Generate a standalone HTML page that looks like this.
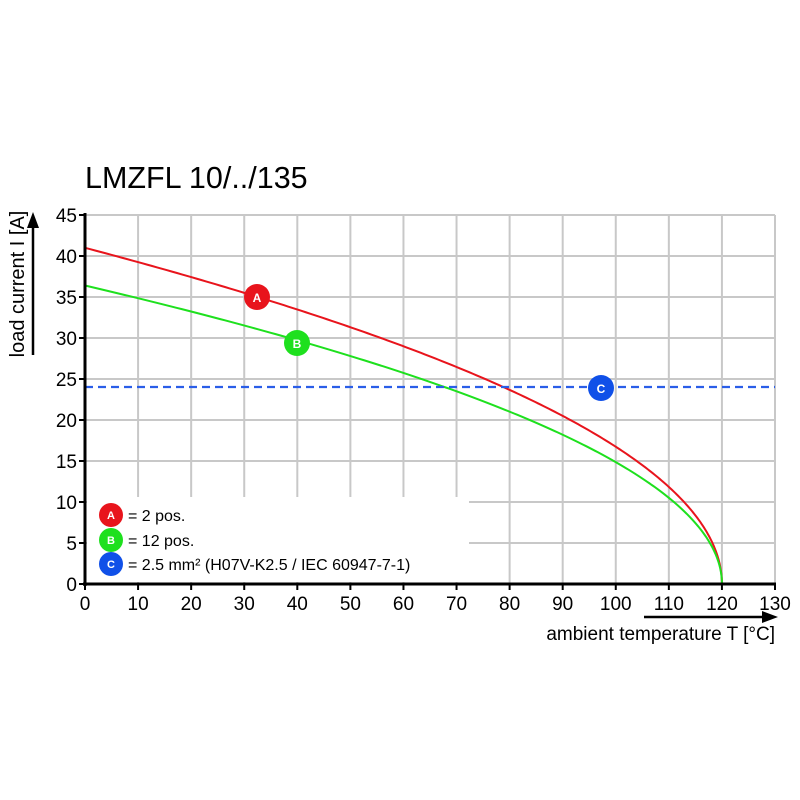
<!DOCTYPE html>
<html><head><meta charset="utf-8"><style>
html,body{margin:0;padding:0;background:#fff}
svg{display:block}
text{font-family:"Liberation Sans",Arial,sans-serif;fill:#000}
</style></head><body>
<svg id="s" width="800" height="800" xmlns="http://www.w3.org/2000/svg">
<text x="85" y="188" font-size="30.5">LMZFL 10/../135</text>
<g id="grid" stroke="#c8c8c8" stroke-width="2"></g>
<rect x="87" y="497" width="382" height="85" fill="#fff"/>
<path id="pa" fill="none" stroke="#e8141c" stroke-width="2"/>
<path id="pb" fill="none" stroke="#1ee01e" stroke-width="2"/>
<line x1="85" y1="387" x2="775" y2="387" stroke="#2a5ee8" stroke-width="2.2" stroke-dasharray="8,5"/>
<line x1="85" y1="213" x2="85" y2="586" stroke="#000" stroke-width="3"/>
<line x1="83" y1="584" x2="776" y2="584" stroke="#000" stroke-width="3"/>
<g id="ticks" stroke="#000" stroke-width="2"></g>
<g id="lbl" font-size="19"></g>
<circle cx="257" cy="297" r="13" fill="#e8141c"/><text x="257" y="302" font-size="12" font-weight="bold" text-anchor="middle" style="fill:#fff">A</text>
<circle cx="297" cy="343" r="13" fill="#1ee01e"/><text x="297" y="348" font-size="12" font-weight="bold" text-anchor="middle" style="fill:#fff">B</text>
<circle cx="601" cy="388" r="13" fill="#1050e8"/><text x="601" y="393" font-size="12" font-weight="bold" text-anchor="middle" style="fill:#fff">C</text>
<circle cx="111" cy="515" r="12" fill="#e8141c"/><text x="111" y="519" font-size="11" font-weight="bold" text-anchor="middle" style="fill:#fff">A</text>
<circle cx="111" cy="540" r="12" fill="#1ee01e"/><text x="111" y="544" font-size="11" font-weight="bold" text-anchor="middle" style="fill:#fff">B</text>
<circle cx="111" cy="564" r="12" fill="#1050e8"/><text x="111" y="568" font-size="11" font-weight="bold" text-anchor="middle" style="fill:#fff">C</text>
<text x="128" y="521" font-size="16">= 2 pos.</text>
<text x="128" y="546" font-size="16">= 12 pos.</text>
<text x="128" y="570" font-size="16">= 2.5 mm² (H07V-K2.5 / IEC 60947-7-1)</text>
<text x="775" y="640" font-size="19" text-anchor="end">ambient temperature T [°C]</text>
<line x1="644" y1="617" x2="765" y2="617" stroke="#000" stroke-width="2.5"/>
<polygon points="778,617 762,611 762,623" fill="#000"/>
<text transform="translate(24,284) rotate(-90)" font-size="20" text-anchor="middle">load current I [A]</text>
<line x1="33" y1="355" x2="33" y2="225" stroke="#000" stroke-width="2.5"/>
<polygon points="33,212 27,228 39,228" fill="#000"/>
</svg>
<script>
var X=t=>85+t*690/130, Y=v=>584-v*8.2;
var g=document.getElementById('grid'),tk=document.getElementById('ticks'),lb=document.getElementById('lbl'),ns='http://www.w3.org/2000/svg';
function el(p,n,a,txt){var e=document.createElementNS(ns,n);for(var k in a)e.setAttribute(k,a[k]);if(txt!=null)e.textContent=txt;p.appendChild(e);}
for(var t=10;t<=130;t+=10){el(g,'line',{x1:X(t),y1:215,x2:X(t),y2:584});}
for(var v=5;v<=45;v+=5){el(g,'line',{x1:85,y1:Y(v),x2:775,y2:Y(v)});}
for(var t=0;t<=130;t+=10){el(tk,'line',{x1:X(t),y1:584,x2:X(t),y2:590});el(lb,'text',{x:X(t),y:610,'text-anchor':'middle'},String(t));}
for(var v=0;v<=45;v+=5){el(tk,'line',{x1:79,y1:Y(v),x2:85,y2:Y(v)});el(lb,'text',{x:77,y:Y(v)+7,'text-anchor':'end'},String(v));}
function curve(I0){var d='';for(var i=0;i<=240;i++){var t=120*(1-Math.pow(1-i/240,2));var v=I0*Math.sqrt(Math.max(0,(120-t)/120));d+=(i?'L':'M')+X(t).toFixed(2)+','+Y(v).toFixed(2);}return d;}
document.getElementById('pa').setAttribute('d',curve(41));
document.getElementById('pb').setAttribute('d',curve(36.4));
</script>
</body></html>
